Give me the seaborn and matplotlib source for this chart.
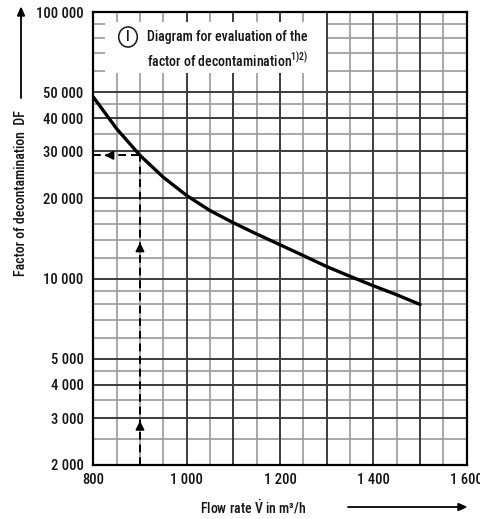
import numpy as np
import pandas as pd
import seaborn as sns
import matplotlib.pyplot as plt
from matplotlib import font_manager
from matplotlib.patches import Circle, Rectangle

# curve
flow = [800, 850, 900, 950, 1000, 1050, 1100, 1150, 1200, 1250, 1300, 1350, 1400, 1450, 1500]
df_vals = [48000, 36500, 29000, 24000, 20500, 18000, 16200, 14700, 13400, 12200, 11100, 10200, 9400, 8700, 8000]

# example reading
ex_flow = 900
ex_df = 29000

x_ticks = [800, 1000, 1200, 1400, 1600]
x_ticklabels = ["800", "1 000", "1 200", "1 400", "1 600"]
y_ticks = [2000, 3000, 4000, 5000, 10000, 20000, 30000, 40000, 50000, 100000]
y_ticklabels = ["2 000", "3 000", "4 000", "5 000", "10 000", "20 000", "30 000", "40 000", "50 000", "100 000"]

x_major = [1000, 1100, 1200, 1300, 1400, 1500]
x_minor = [850, 900, 950, 1050, 1150, 1250, 1350, 1450, 1550]
y_major = [3000, 4000, 5000, 10000, 20000, 30000, 40000, 50000]
y_minor = [2500, 3500, 4500, 6000, 7000, 8000, 9000, 12000, 14000, 16000, 18000,
           25000, 35000, 45000, 60000, 70000, 80000, 90000]

names = {f.name for f in font_manager.fontManager.ttflist}
cands = ['Liberation Sans Narrow', 'DejaVu Sans Condensed', 'Roboto Condensed', 'Open Sans Condensed', 'Liberation Sans']
font = [c for c in cands if c in names][0]

sns.set_style("white")
plt.rcParams['font.family'] = [font, 'DejaVu Sans']
plt.rcParams['font.weight'] = 'medium'
plt.rcParams['mathtext.fontset'] = 'custom'
plt.rcParams['mathtext.rm'] = font
plt.rcParams['mathtext.it'] = font
txt = '#151515'

fig = plt.figure(figsize=(4.81, 5.19), dpi=100)
ax = fig.add_axes([93.3/481, 54/519, 373.4/481, 453/519])
ax.set_yscale('log')
ax.set_xlim(800, 1600)
ax.set_ylim(2000, 100000)

for v in x_minor:
    ax.axvline(v, color='#9a9a9a', lw=1.2, zorder=1)
for v in y_minor:
    ax.axhline(v, color='#9a9a9a', lw=1.2, zorder=1)
for v in x_major:
    ax.axvline(v, color='#3c3c3c', lw=1.4, zorder=1.5)
for v in y_major:
    ax.axhline(v, color='#3c3c3c', lw=1.4, zorder=1.5)

# white box behind the note
ax.add_patch(Rectangle((105/481, 1 - 73/519), 221/481, 51/519, transform=fig.transFigure,
                       facecolor='white', edgecolor='none', zorder=2))

data = pd.DataFrame({"flow": flow, "DF": df_vals})
sns.lineplot(data=data, x="flow", y="DF", color='black', lw=2.4, ax=ax, zorder=4)

# dashed read-off lines
ax.plot([ex_flow, ex_flow], [2000, ex_df], color='black', lw=1.4, ls=(0, (4, 2.5)), zorder=3)
ax.plot([800, ex_flow], [ex_df, ex_df], color='black', lw=1.4, ls=(0, (4, 2.5)), zorder=3)
arr = dict(arrowstyle='-|>', color='black', lw=1.2, mutation_scale=13)
ax.annotate("", xy=(ex_flow, 3000), xytext=(ex_flow, 2700), arrowprops=arr, zorder=5)
ax.annotate("", xy=(ex_flow, 14000), xytext=(ex_flow, 12600), arrowprops=arr, zorder=5)
ax.annotate("", xy=(818, ex_df), xytext=(835, ex_df), arrowprops=arr, zorder=5)

ax.set_xticks(x_ticks)
ax.set_xticklabels(x_ticklabels)
ax.set_yticks(y_ticks)
ax.set_yticklabels(y_ticklabels)
ax.minorticks_off()
ax.tick_params(axis='both', length=0, labelsize=10.5, colors=txt)
ax.tick_params(axis='y', pad=7)
ax.tick_params(axis='x', pad=6)
ax.set_xlabel("")
ax.set_ylabel("")
for s in ax.spines.values():
    s.set_color('black')
    s.set_linewidth(1.6)
    s.set_zorder(6)

# note in the upper left
fig.patches.append(Circle((128/481, 1 - 37/519), 9.3/481, transform=fig.transFigure,
                          facecolor='none', edgecolor=txt, lw=1.1))
fig.text(128/481, 1 - 37/519, "I", ha='center', va='center', fontsize=10, color=txt)
fig.text(147/481, 1 - 37/519, "Diagram for evaluation of the", ha='left', va='center',
         fontsize=10, color=txt)
fig.text(147/481, 1 - 60/519, "factor of decontamination$^{\\mathregular{1)2)}}$", ha='left',
         va='center', fontsize=10, color=txt)

# axis titles with arrows
fig.text(21/481, 1 - 193/519, "Factor of decontamination  DF", rotation=90, ha='center',
         va='center', fontsize=10, color=txt)
fig.text(253/481, 1 - 507/519, "Flow rate $\\mathregular{\\dot{V}}$ in m\u00b3/h", ha='center', va='center',
         fontsize=10, color=txt)
fig.add_artist(plt.Line2D([21/481, 21/481], [1 - 98/519, 1 - 14/519], color='black', lw=1.3,
                          transform=fig.transFigure))
fig.patches.append(plt.Polygon([[17.5/481, 1 - 16/519], [24.5/481, 1 - 16/519], [21/481, 1 - 8/519]],
                               closed=True, transform=fig.transFigure, color='black'))
fig.add_artist(plt.Line2D([348/481, 460/481], [1 - 507/519, 1 - 507/519], color='black', lw=1.3,
                          transform=fig.transFigure))
fig.patches.append(plt.Polygon([[458/481, 1 - 503.5/519], [458/481, 1 - 510.5/519], [466/481, 1 - 507/519]],
                               closed=True, transform=fig.transFigure, color='black'))

fig.savefig("out.png", dpi=100)
